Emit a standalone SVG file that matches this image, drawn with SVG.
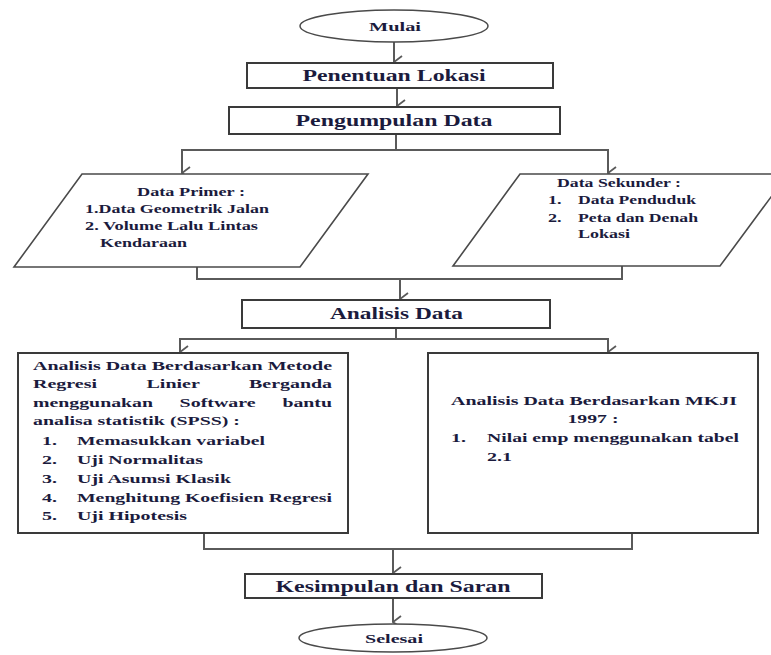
<svg xmlns="http://www.w3.org/2000/svg" width="771" height="655" viewBox="0 0 771 655">
<style>
.bg{fill:#ffffff}
.box{fill:#ffffff;stroke:#3a3a3a;stroke-width:2}
.para{fill:#ffffff;stroke:#4a4a4a;stroke-width:1.6}
.term{fill:#ffffff;stroke:#4a4a4a;stroke-width:1.5}
.con{fill:none;stroke:#5a5a5a;stroke-width:2}
.t{font-family:"Liberation Serif","Times New Roman",serif;font-weight:bold;fill:#1b1b3d}
.h{font-size:16px}
.s{font-size:12px}
.m{font-size:13px}
.c{text-anchor:middle}
</style>
<defs>
<marker id="arr" markerUnits="userSpaceOnUse" viewBox="0 0 14 10" refX="7" refY="9" markerWidth="14" markerHeight="10" orient="auto-start-reverse">
<path d="M1,1 L7,9 L13,1" fill="none" stroke="#5a5a5a" stroke-width="1.8"/>
</marker>
</defs>
<rect class="bg" x="0" y="0" width="771" height="655"/>

<g id="connectors">
<path class="con" d="M394,42 V62" marker-end="url(#arr)"/>
<path class="con" d="M397,88 V106" marker-end="url(#arr)"/>
<path class="con" d="M396,134 V150 M181,150 H609"/>
<path class="con" d="M182,150 V173" marker-end="url(#arr)"/>
<path class="con" d="M608,150 V173" marker-end="url(#arr)"/>
<path class="con" d="M197,267 V279 H622 M622,266 V280"/>
<path class="con" d="M400,279 V299" marker-end="url(#arr)"/>
<path class="con" d="M396,328 V339 M179,339 H609"/>
<path class="con" d="M180,339 V352" marker-end="url(#arr)"/>
<path class="con" d="M608,339 V352" marker-end="url(#arr)"/>
<path class="con" d="M204,533 V549 H632 V533"/>
<path class="con" d="M393,549 V573" marker-end="url(#arr)"/>
<path class="con" d="M393,598 V622" marker-end="url(#arr)"/>
</g>

<g id="mulai">
<ellipse class="term" cx="394" cy="26" rx="94" ry="16"/>
<text class="t c" x="395" y="30.5" font-size="12.5" textLength="52" lengthAdjust="spacingAndGlyphs">Mulai</text>
</g>

<g id="penentuan-lokasi">
<rect class="box" x="247" y="63" width="306" height="25"/>
<text class="t h c" x="394" y="81" textLength="183" lengthAdjust="spacingAndGlyphs">Penentuan Lokasi</text>
</g>

<g id="pengumpulan-data">
<rect class="box" x="229" y="107" width="331" height="27"/>
<text class="t h c" x="394" y="125.5" textLength="197" lengthAdjust="spacingAndGlyphs">Pengumpulan Data</text>
</g>

<g id="data-primer">
<polygon class="para" points="82,174 368,174 300,267 14,267"/>
<text class="t s" x="137" y="196" textLength="108" lengthAdjust="spacingAndGlyphs">Data Primer :</text>
<text class="t s" x="85" y="213" textLength="184" lengthAdjust="spacingAndGlyphs">1.Data Geometrik Jalan</text>
<text class="t s" x="85" y="230" textLength="173" lengthAdjust="spacingAndGlyphs">2. Volume Lalu Lintas</text>
<text class="t s" x="100" y="247" textLength="87" lengthAdjust="spacingAndGlyphs">Kendaraan</text>
</g>

<g id="data-sekunder">
<polygon class="para" points="520,174 788,174 720,266 453,266"/>
<text class="t s" x="557" y="187" textLength="124" lengthAdjust="spacingAndGlyphs">Data Sekunder :</text>
<text class="t s" x="548" y="204" textLength="13.6" lengthAdjust="spacingAndGlyphs">1.</text>
<text class="t s" x="578" y="204" textLength="118" lengthAdjust="spacingAndGlyphs">Data Penduduk</text>
<text class="t s" x="548" y="222" textLength="13.6" lengthAdjust="spacingAndGlyphs">2.</text>
<text class="t s" x="578" y="222" textLength="120" lengthAdjust="spacingAndGlyphs">Peta dan Denah</text>
<text class="t s" x="578" y="238" textLength="52" lengthAdjust="spacingAndGlyphs">Lokasi</text>
</g>

<g id="analisis-data">
<rect class="box" x="242" y="300" width="308" height="28"/>
<text class="t h c" x="396.5" y="319" textLength="133" lengthAdjust="spacingAndGlyphs">Analisis Data</text>
</g>

<g id="analisis-regresi">
<rect class="box" x="18" y="353" width="330" height="180"/>
<text class="t m" x="33" y="369.5" textLength="299" lengthAdjust="spacingAndGlyphs">Analisis Data Berdasarkan Metode</text>
<text class="t m" y="388"><tspan x="33" textLength="64" lengthAdjust="spacingAndGlyphs">Regresi</tspan> <tspan x="146.5" textLength="53" lengthAdjust="spacingAndGlyphs">Linier</tspan> <tspan x="249" textLength="83" lengthAdjust="spacingAndGlyphs">Berganda</tspan></text>
<text class="t m" y="406.5"><tspan x="33" textLength="120" lengthAdjust="spacingAndGlyphs">menggunakan</tspan> <tspan x="179.6" textLength="76" lengthAdjust="spacingAndGlyphs">Software</tspan> <tspan x="282.4" textLength="49.6" lengthAdjust="spacingAndGlyphs">bantu</tspan></text>
<text class="t m" x="33" y="425" textLength="207" lengthAdjust="spacingAndGlyphs">analisa statistik (SPSS) :</text>
<text class="t m" x="42" y="444.5" textLength="15" lengthAdjust="spacingAndGlyphs">1.</text>
<text class="t m" x="77" y="444.5" textLength="188" lengthAdjust="spacingAndGlyphs">Memasukkan variabel</text>
<text class="t m" x="42" y="463.5" textLength="15" lengthAdjust="spacingAndGlyphs">2.</text>
<text class="t m" x="77" y="463.5" textLength="126" lengthAdjust="spacingAndGlyphs">Uji Normalitas</text>
<text class="t m" x="42" y="482.5" textLength="15" lengthAdjust="spacingAndGlyphs">3.</text>
<text class="t m" x="77" y="482.5" textLength="154" lengthAdjust="spacingAndGlyphs">Uji Asumsi Klasik</text>
<text class="t m" x="42" y="501.5" textLength="15" lengthAdjust="spacingAndGlyphs">4.</text>
<text class="t m" x="77" y="501.5" textLength="255" lengthAdjust="spacingAndGlyphs">Menghitung Koefisien Regresi</text>
<text class="t m" x="42" y="520" textLength="15" lengthAdjust="spacingAndGlyphs">5.</text>
<text class="t m" x="77" y="520" textLength="110" lengthAdjust="spacingAndGlyphs">Uji Hipotesis</text>
</g>

<g id="analisis-mkji">
<rect class="box" x="428" y="353" width="330" height="180"/>
<text class="t m" x="451" y="405" textLength="286" lengthAdjust="spacingAndGlyphs">Analisis Data Berdasarkan MKJI</text>
<text class="t m c" x="593" y="423" textLength="51" lengthAdjust="spacingAndGlyphs">1997 :</text>
<text class="t m" x="451" y="442" textLength="15" lengthAdjust="spacingAndGlyphs">1.</text>
<text class="t m" x="487" y="442" textLength="252" lengthAdjust="spacingAndGlyphs">Nilai emp menggunakan tabel</text>
<text class="t m" x="487" y="461" textLength="25" lengthAdjust="spacingAndGlyphs">2.1</text>
</g>

<g id="kesimpulan">
<rect class="box" x="245" y="574" width="297" height="24"/>
<text class="t h c" x="393" y="591.5" textLength="235" lengthAdjust="spacingAndGlyphs">Kesimpulan dan Saran</text>
</g>

<g id="selesai">
<ellipse class="term" cx="393" cy="638" rx="94" ry="14"/>
<text class="t c" x="394" y="643" font-size="13" textLength="58" lengthAdjust="spacingAndGlyphs">Selesai</text>
</g>
</svg>
